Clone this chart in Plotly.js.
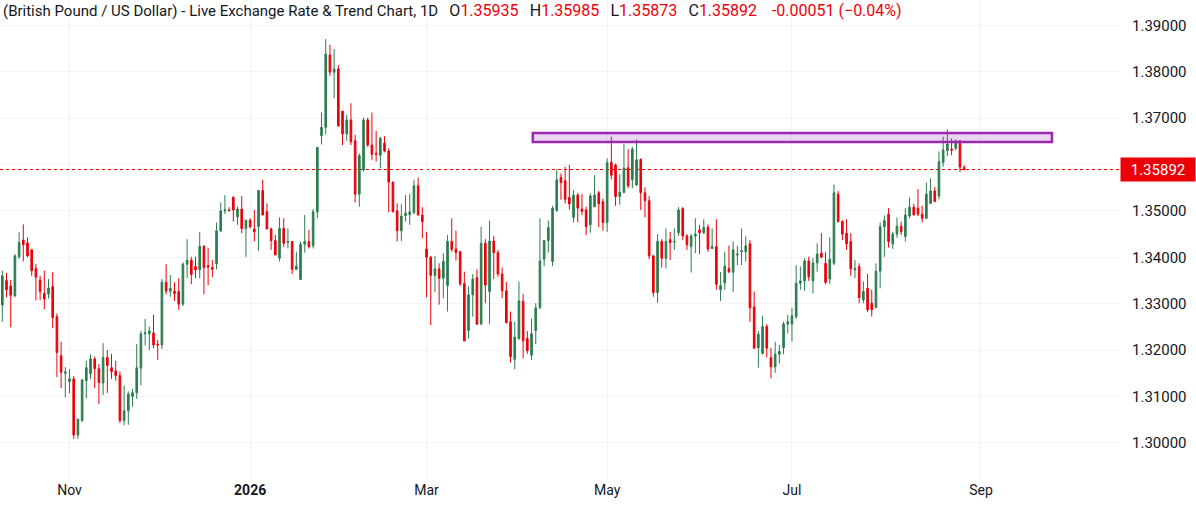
<!DOCTYPE html>
<html>
<head>
<meta charset="utf-8">
<script src="https://cdn.plot.ly/plotly-3.0.1.min.js"></script>
<style>
  html, body { margin: 0; padding: 0; background: #ffffff; }
  #chart { width: 1196px; height: 518px; }
</style>
</head>
<body>
<div id="chart"></div>
<script>
// GBP/USD daily bars, Oct 10 2025 .. Aug 27 2026
const openP = [
1.3297,1.3350,1.3338,1.3317,1.3401,1.3437,1.3431,1.3416,1.3376,1.3351,
1.3322,1.3321,1.3337,1.3272,1.3188,1.3150,1.3132,1.3138,1.3017,1.3048,
1.3134,1.3149,1.3181,1.3160,1.3129,1.3184,1.3162,1.3155,1.3145,1.3048,
1.3069,1.3100,1.3108,1.3161,1.3235,1.3235,1.3237,1.3213,1.3211,1.3346,
1.3327,1.3327,1.3326,1.3299,1.3385,1.3394,1.3380,1.3373,1.3424,1.3382,
1.3378,1.3386,1.3457,1.3500,1.3502,1.3529,1.3487,1.3504,1.3462,1.3480,
1.3461,1.3466,1.3544,1.3498,1.3461,1.3436,1.3398,1.3462,1.3432,1.3434,
1.3374,1.3352,1.3428,1.3434,1.3425,1.3498,1.3662,1.3680,1.3836,1.3799,
1.3806,1.3715,1.3666,1.3696,1.3651,1.3536,1.3588,1.3696,1.3642,1.3624,
1.3620,1.3646,1.3629,1.3562,1.3500,1.3457,1.3490,1.3492,1.3496,1.3554,
1.3491,1.3418,1.3400,1.3361,1.3375,1.3355,1.3339,1.3434,1.3418,1.3412,
1.3343,1.3242,1.3319,1.3356,1.3256,1.3430,1.3326,1.3435,1.3410,1.3364,
1.3328,1.3261,1.3180,1.3225,1.3305,1.3225,1.3189,1.3242,1.3292,1.3396,
1.3436,1.3391,1.3501,1.3572,1.3565,1.3529,1.3486,1.3534,1.3504,1.3502,
1.3470,1.3509,1.3539,1.3520,1.3475,1.3605,1.3599,1.3531,1.3540,1.3593,
1.3567,1.3556,1.3611,1.3539,1.3522,1.3403,1.3324,1.3434,1.3398,1.3438,
1.3433,1.3453,1.3505,1.3446,1.3423,1.3446,1.3459,1.3453,1.3465,1.3419,
1.3423,1.3330,1.3345,1.3376,1.3368,1.3405,1.3412,1.3412,1.3429,1.3293,
1.3205,1.3193,1.3251,1.3184,1.3164,1.3191,1.3205,1.3256,1.3256,1.3272,
1.3344,1.3349,1.3392,1.3349,1.3388,1.3409,1.3387,1.3353,1.3387,1.3536,
1.3477,1.3452,1.3434,1.3373,1.3380,1.3308,1.3333,1.3301,1.3292,1.3370,
1.3466,1.3493,1.3429,1.3450,1.3467,1.3445,1.3489,1.3508,1.3506,1.3493,
1.3484,1.3516,1.3543,1.3532,1.3604,1.3630,1.3633,1.3635,1.3651,1.35935
];
const highP = [
1.3371,1.3366,1.3351,1.3407,1.3454,1.3471,1.3443,1.3417,1.3386,1.3360,
1.3371,1.3353,1.3368,1.3279,1.3218,1.3163,1.3159,1.3144,1.3052,1.3136,
1.3177,1.3191,1.3186,1.3170,1.3215,1.3200,1.3192,1.3177,1.3154,1.3123,
1.3111,1.3116,1.3213,1.3241,1.3267,1.3251,1.3276,1.3222,1.3353,1.3385,
1.3362,1.3346,1.3355,1.3389,1.3439,1.3401,1.3401,1.3454,1.3426,1.3420,
1.3394,1.3475,1.3518,1.3534,1.3508,1.3532,1.3509,1.3532,1.3480,1.3484,
1.3502,1.3545,1.3567,1.3516,1.3464,1.3448,1.3486,1.3484,1.3462,1.3434,
1.3412,1.3434,1.3491,1.3459,1.3504,1.3638,1.3712,1.3870,1.3858,1.3849,
1.3814,1.3715,1.3707,1.3732,1.3664,1.3624,1.3701,1.3701,1.3712,1.3672,
1.3660,1.3661,1.3635,1.3563,1.3516,1.3514,1.3534,1.3536,1.3567,1.3572,
1.3508,1.3455,1.3403,1.3403,1.3387,1.3409,1.3448,1.3484,1.3457,1.3414,
1.3369,1.3338,1.3364,1.3374,1.3466,1.3439,1.3479,1.3446,1.3416,1.3378,
1.3347,1.3283,1.3261,1.3348,1.3321,1.3241,1.3268,1.3301,1.3484,1.3436,
1.3479,1.3511,1.3590,1.3581,1.3595,1.3599,1.3545,1.3539,1.3536,1.3509,
1.3538,1.3577,1.3543,1.3527,1.3613,1.3660,1.3602,1.3579,1.3644,1.3633,
1.3638,1.3654,1.3613,1.3551,1.3532,1.3405,1.3450,1.3439,1.3462,1.3455,
1.3462,1.3508,1.3508,1.3450,1.3450,1.3484,1.3470,1.3482,1.3471,1.3462,
1.3482,1.3368,1.3412,1.3425,1.3434,1.3425,1.3462,1.3445,1.3437,1.3326,
1.3241,1.3274,1.3256,1.3205,1.3218,1.3211,1.3261,1.3276,1.3291,1.3383,
1.3380,1.3398,1.3401,1.3399,1.3430,1.3452,1.3411,1.3443,1.3557,1.3543,
1.3480,1.3482,1.3452,1.3394,1.3387,1.3348,1.3364,1.3330,1.3387,1.3475,
1.3490,1.3506,1.3455,1.3486,1.3477,1.3506,1.3529,1.3515,1.3547,1.3511,
1.3561,1.3570,1.3552,1.3628,1.3660,1.3676,1.3656,1.3654,1.3651,1.35985
];
const lowP = [
1.3261,1.3314,1.3249,1.3314,1.3396,1.3391,1.3400,1.3360,1.3307,1.3308,
1.3288,1.3311,1.3247,1.3142,1.3118,1.3098,1.3107,1.3009,1.3009,1.3045,
1.3096,1.3137,1.3118,1.3084,1.3103,1.3108,1.3138,1.3134,1.3043,1.3038,
1.3039,1.3078,1.3095,1.3124,1.3210,1.3200,1.3204,1.3179,1.3202,1.3320,
1.3315,1.3306,1.3287,1.3295,1.3355,1.3342,1.3355,1.3355,1.3320,1.3340,
1.3357,1.3374,1.3454,1.3493,1.3498,1.3477,1.3470,1.3452,1.3401,1.3462,
1.3434,1.3414,1.3491,1.3461,1.3416,1.3405,1.3391,1.3422,1.3419,1.3364,
1.3373,1.3352,1.3410,1.3419,1.3419,1.3484,1.3643,1.3665,1.3791,1.3743,
1.3682,1.3642,1.3651,1.3642,1.3518,1.3509,1.3585,1.3638,1.3610,1.3606,
1.3592,1.3626,1.3497,1.3497,1.3434,1.3435,1.3477,1.3470,1.3493,1.3490,
1.3441,1.3314,1.3254,1.3325,1.3298,1.3312,1.3283,1.3412,1.3393,1.3338,
1.3219,1.3225,1.3272,1.3254,1.3254,1.3301,1.3256,1.3353,1.3358,1.3312,
1.3258,1.3173,1.3159,1.3222,1.3182,1.3192,1.3179,1.3213,1.3288,1.3381,
1.3410,1.3381,1.3498,1.3524,1.3516,1.3503,1.3475,1.3475,1.3491,1.3448,
1.3453,1.3508,1.3465,1.3457,1.3455,1.3568,1.3511,1.3513,1.3538,1.3549,
1.3549,1.3554,1.3502,1.3486,1.3396,1.3315,1.3302,1.3378,1.3376,1.3394,
1.3416,1.3446,1.3437,1.3416,1.3367,1.3409,1.3407,1.3450,1.3412,1.3419,
1.3330,1.3306,1.3330,1.3368,1.3325,1.3383,1.3383,1.3391,1.3261,1.3203,
1.3162,1.3190,1.3184,1.3139,1.3151,1.3171,1.3191,1.3236,1.3218,1.3267,
1.3330,1.3328,1.3349,1.3322,1.3369,1.3398,1.3342,1.3342,1.3383,1.3475,
1.3437,1.3416,1.3360,1.3355,1.3301,1.3301,1.3282,1.3272,1.3290,1.3333,
1.3401,1.3421,1.3418,1.3442,1.3448,1.3434,1.3484,1.3491,1.3489,1.3475,
1.3483,1.3516,1.3520,1.3525,1.3595,1.3618,1.3620,1.3631,1.3584,1.35873
];
const closeP = [
1.3360,1.3330,1.3318,1.3403,1.3432,1.3427,1.3403,1.3371,1.3357,1.3326,
1.3310,1.3334,1.3270,1.3195,1.3152,1.3153,1.3138,1.3017,1.3051,1.3136,
1.3162,1.3181,1.3160,1.3130,1.3184,1.3167,1.3154,1.3145,1.3048,1.3069,
1.3105,1.3108,1.3162,1.3235,1.3237,1.3241,1.3211,1.3211,1.3346,1.3327,
1.3333,1.3322,1.3299,1.3385,1.3394,1.3363,1.3373,1.3424,1.3378,1.3379,
1.3374,1.3457,1.3500,1.3502,1.3501,1.3502,1.3504,1.3462,1.3480,1.3466,
1.3455,1.3544,1.3491,1.3461,1.3436,1.3405,1.3462,1.3430,1.3434,1.3374,
1.3381,1.3428,1.3434,1.3423,1.3498,1.3637,1.3680,1.3838,1.3799,1.3806,
1.3683,1.3666,1.3696,1.3649,1.3536,1.3619,1.3696,1.3642,1.3622,1.3622,
1.3656,1.3629,1.3562,1.3498,1.3457,1.3489,1.3495,1.3498,1.3554,1.3491,
1.3477,1.3400,1.3361,1.3375,1.3355,1.3391,1.3434,1.3417,1.3410,1.3343,
1.3220,1.3319,1.3353,1.3256,1.3430,1.3340,1.3435,1.3410,1.3364,1.3328,
1.3259,1.3186,1.3228,1.3306,1.3220,1.3199,1.3235,1.3291,1.3392,1.3436,
1.3464,1.3506,1.3567,1.3561,1.3525,1.3515,1.3534,1.3506,1.3499,1.3466,
1.3532,1.3534,1.3515,1.3475,1.3604,1.3577,1.3531,1.3540,1.3592,1.3554,
1.3633,1.3610,1.3539,1.3522,1.3403,1.3324,1.3434,1.3398,1.3434,1.3432,
1.3434,1.3502,1.3446,1.3427,1.3446,1.3450,1.3453,1.3464,1.3418,1.3423,
1.3342,1.3339,1.3381,1.3368,1.3416,1.3407,1.3414,1.3425,1.3291,1.3204,
1.3234,1.3251,1.3204,1.3164,1.3191,1.3197,1.3256,1.3261,1.3274,1.3344,
1.3349,1.3392,1.3358,1.3388,1.3407,1.3400,1.3346,1.3396,1.3539,1.3477,
1.3450,1.3429,1.3375,1.3376,1.3313,1.3326,1.3287,1.3287,1.3370,1.3466,
1.3479,1.3434,1.3450,1.3467,1.3455,1.3491,1.3508,1.3491,1.3493,1.3484,
1.3536,1.3543,1.3520,1.3606,1.3631,1.3644,1.3631,1.3647,1.35943,1.35892
];

// time-axis labels (bar index of first bar of each labelled month)
const tickIndex = [16, 59, 101, 144, 188, 233];
const tickLabels = ["Nov", "<b>2026</b>", "Mar", "May", "Jul", "Sep"];

// price-axis labels (1.36000 is hidden behind the last-price tag)
const priceTicks = [1.30, 1.31, 1.32, 1.33, 1.34, 1.35, 1.36, 1.37, 1.38, 1.39];
const priceTickText = ["1.30000", "1.31000", "1.32000", "1.33000", "1.34000",
                       "1.35000", "", "1.37000", "1.38000", "1.39000"];

// resistance zone drawn on the chart
const zoneStartBar = 126.3;
const zoneEndBar = 249.9;
const zoneLow = 1.36485;
const zoneHigh = 1.36679;

// header values
const titleText = "(British Pound / US Dollar) - Live Exchange Rate &amp; Trend Chart, 1D";
const lastOpen = "1.35935", lastHigh = "1.35985", lastLow = "1.35873", lastClose = "1.35892";
const changeText = "-0.00051 (\u22120.04%)";

const barIndex = closeP.map((_, i) => i);

const GREEN = "#2b7d4f";
const RED = "#ec0008";
const TXT = "#131722";
const GRID = "#f0f3fa";
const FONT = "Roboto, 'Open Sans', sans-serif";

const trace = {
  type: "candlestick",
  x: barIndex,
  open: openP, high: highP, low: lowP, close: closeP,
  increasing: { line: { color: GREEN, width: 1 }, fillcolor: GREEN },
  decreasing: { line: { color: RED, width: 1 }, fillcolor: RED },
  whiskerwidth: 0,
  hoverinfo: "none",
  showlegend: false
};

const big = s => '<span style="font-size:16px">' + s + '</span>';
const red = s => '<span style="color:' + RED + ';font-size:16px">' + s + '</span>';
const sp = "\u00a0\u00a0\u00a0";
const header = titleText + sp + big("O") + red(lastOpen) + sp + big("H") + red(lastHigh) + sp +
  big("L") + red(lastLow) + sp + big("C") + red(lastClose) + sp + "\u00a0" + red(changeText);

const layout = {
  width: 1196, height: 518,
  margin: { l: 0, r: 76, t: 0, b: 38 },
  paper_bgcolor: "#ffffff", plot_bgcolor: "#ffffff",
  font: { family: FONT, color: TXT, size: 13 },
  boxgap: 0.45,
  xaxis: {
    range: [-0.55, 266.1],
    tickmode: "array", tickvals: tickIndex, ticktext: tickLabels,
    showgrid: true, gridcolor: GRID, gridwidth: 1,
    zeroline: false, showline: false, ticks: "",
    rangeslider: { visible: false },
    tickfont: { family: FONT, size: 14, color: TXT },
    fixedrange: true
  },
  yaxis: {
    side: "right",
    range: [1.2920, 1.39545],
    tickmode: "array", tickvals: priceTicks, ticktext: priceTickText,
    showgrid: true, gridcolor: GRID, gridwidth: 1,
    zeroline: false, showline: false, ticks: "",
    ticklabelstandoff: 11,
    tickfont: { family: FONT, size: 15, color: TXT },
    fixedrange: true
  },
  shapes: [
    {
      type: "rect", xref: "x", yref: "y",
      x0: zoneStartBar, x1: zoneEndBar, y0: zoneLow, y1: zoneHigh,
      line: { color: "#9c27b0", width: 2.5 },
      fillcolor: "rgba(156,39,176,0.2)",
      layer: "above"
    },
    {
      type: "line", xref: "paper", yref: "y",
      x0: 0, x1: 1, y0: parseFloat(lastClose), y1: parseFloat(lastClose),
      line: { color: RED, width: 1, dash: "dot" },
      layer: "below"
    }
  ],
  annotations: [
    {
      xref: "paper", yref: "paper", x: 0, y: 1, xanchor: "left", yanchor: "top",
      xshift: 1, yshift: 1,
      text: header, showarrow: false, align: "left",
      font: { family: FONT, size: 15, color: TXT }
    },
    {
      xref: "paper", yref: "y", x: 1, y: parseFloat(lastClose),
      xanchor: "left", yanchor: "middle",
      text: lastClose, showarrow: false, align: "center",
      bgcolor: RED, borderpad: 2, width: 70, height: 19,
      font: { family: FONT, size: 15, color: "#ffffff" }
    }
  ]
};

Plotly.newPlot("chart", [trace], layout, { displayModeBar: false, staticPlot: true });
</script>
</body>
</html>
